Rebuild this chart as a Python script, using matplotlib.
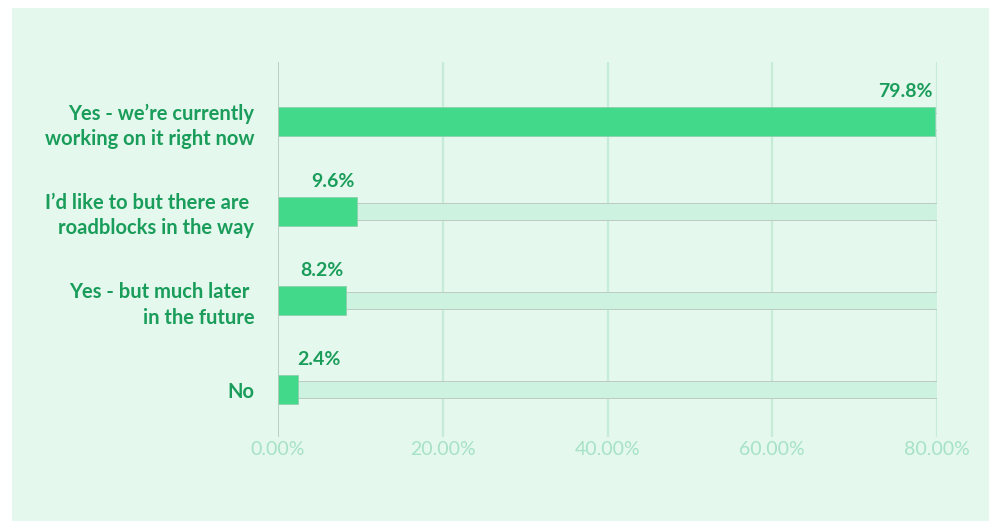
import matplotlib.pyplot as plt
import matplotlib.transforms as mtransforms
from matplotlib.patches import Rectangle

# survey answers and share of respondents (%)
answers = [
    'Yes - we\u2019re currently\nworking on it right now',
    'I\u2019d like to but there are \nroadblocks in the way',
    'Yes - but much later \nin the future',
    'No',
]
shares = [79.8, 9.6, 8.2, 2.4]
ticks = [0, 20, 40, 60, 80]
tick_labels = ['0.00%', '20.00%', '40.00%', '60.00%', '80.00%']

panel = '#e4f8ee'
bar_green = '#42d98b'
track_green = '#cdf2df'
text_green = '#1a9d5a'
grid_green = '#c4ecd7'
tick_green = '#a6e2c5'

W, H = 989, 521
fig = plt.figure(figsize=(W / 100, H / 100), dpi=100, facecolor='white')
fig.patches.append(Rectangle((12 / W, 0), 1, 1 - 8 / H, transform=fig.transFigure,
                             facecolor=panel, edgecolor='none', zorder=-5))

ax = fig.add_axes([278 / W, 1 - 437 / H, (937 - 278) / W, (437 - 62) / H])
ax.set_facecolor('none')
ax.set_zorder(2)

ypos = list(range(len(answers)))
ax.set_xlim(0, 80)
ax.set_ylim(3.53, -0.67)

for t in ticks[1:]:
    ax.axvline(t, color=grid_green, lw=1.6, zorder=1)
ax.axvline(0, color='#b5c7bc', lw=1.2, zorder=4)

# full-width track behind each bar
ax.barh(ypos, [ticks[-1]] * len(ypos), height=0.19, color=track_green,
        edgecolor='#bccbc2', linewidth=0.7, zorder=2)
ax.barh(ypos, shares, height=0.325, color=bar_green,
        edgecolor='#8fcfae', linewidth=0.6, zorder=3)

for y, v in zip(ypos, shares):
    ax.text(max(v, 7.9) - 0.3, y - 0.24, f'{v}%', ha='right', va='bottom',
            fontsize=14, fontweight='bold', color=text_green, family='Lato')

ax.set_yticks(ypos)
ax.set_yticklabels(answers, fontsize=14.5, fontweight='bold', color=text_green,
                   family='Lato', linespacing=1.33)
ax.set_xticks(ticks)
ax.set_xticklabels(tick_labels, fontsize=14, color=tick_green, family='Lato')
shift = mtransforms.ScaledTranslation(0.06, 0, fig.dpi_scale_trans)
for lbl in ax.get_xticklabels():
    lbl.set_transform(lbl.get_transform() + shift)
ax.tick_params(axis='y', length=0, pad=17)
ax.tick_params(axis='x', length=0, pad=3)
for s in ax.spines.values():
    s.set_visible(False)

fig.savefig('out.png', dpi=100, facecolor='white')
